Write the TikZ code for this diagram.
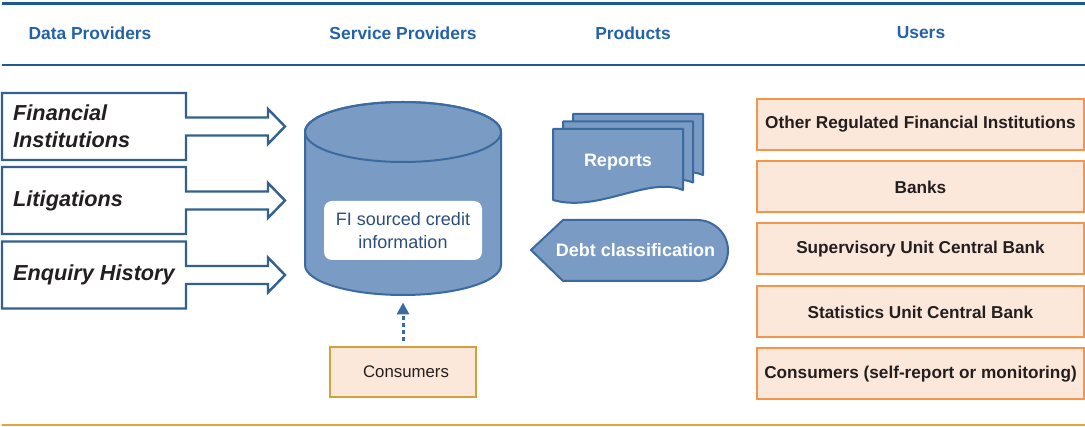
\documentclass[tikz,border=0pt]{standalone}
\usepackage{fontspec}
\setmainfont{Liberation Sans}
\usetikzlibrary{arrows.meta}
\definecolor{hdrblue}{HTML}{2362AA}
\definecolor{rulecol}{HTML}{1C5A96}
\definecolor{dpline}{HTML}{33608F}
\definecolor{cylfill}{HTML}{7A9BC3}
\definecolor{cylline}{HTML}{3A6AA0}
\definecolor{userfill}{HTML}{FCE8DA}
\definecolor{userline}{HTML}{F5954A}
\definecolor{consline}{HTML}{D4A03C}
\definecolor{botline}{HTML}{E3A53A}
\definecolor{txt}{HTML}{231F20}
\definecolor{fitxt}{HTML}{2C4E7E}
\begin{document}
\begin{tikzpicture}[x=1pt,y=-1pt,
  hdr/.style={font=\fontsize{17.4}{20}\selectfont\bfseries, text=hdrblue},
  dpoutline/.style={draw=dpline, line width=2.4, fill=white, line join=miter},
  dptext/.style={font=\fontsize{21.7}{27}\selectfont\bfseries\itshape, text=txt, align=left, anchor=west, inner sep=0},
  prodshape/.style={draw=cylline, line width=2, fill=cylfill, line join=round},
  prodtext/.style={font=\fontsize{18}{21}\selectfont\bfseries, text=white, inner sep=0},
  userbox/.style={draw=userline, line width=2, fill=userfill, minimum width=327, minimum height=51, inner sep=2, font=\fontsize{17.2}{20}\selectfont\bfseries, text=txt},
  consbox/.style={draw=consline, line width=2.2, fill=userfill, minimum width=146, minimum height=50, font=\fontsize{16.8}{20}\selectfont, text=txt},
  rulel/.style={draw=rulecol, line width=2.6}
]
\useasboundingbox (0,0) rectangle (1085,427);

% header rules
\draw[rulel] (2,3.5) -- (1085,3.5);
\draw[rulel] (2,65) -- (1085,65);
\draw[draw=botline, line width=2] (2,425) -- (1085,425);

% headers
\node[hdr] (h1) at (90,33) {Data Providers};
\node[hdr] (h2) at (403,33) {Service Providers};
\node[hdr] (h3) at (633,33) {Products};
\node[hdr] (h4) at (921,33) {Users};

% data providers with block arrows
\foreach \cy in {126.5,200.5,275}{
  \draw[dpoutline] (2,\cy-33.5) -- (186,\cy-33.5) -- (186,\cy-9) -- (268,\cy-9) -- (268,\cy-17.5)
    -- (285,\cy) -- (268,\cy+17.5) -- (268,\cy+9) -- (186,\cy+9) -- (186,\cy+33.5) -- (2,\cy+33.5) -- cycle;
}
\node[dptext] (fi) at (13,126.5) {Financial\\Institutions};
\node[dptext] (lit) at (13,200.5) {Litigations};
\node[dptext] (enq) at (13,275) {Enquiry History};

% cylinder
\draw[prodshape] (305,132) -- (305,265) arc (180:0:98 and 30) -- (501,132) arc (0:-180:98 and 30) -- cycle;
\draw[draw=cylline, line width=2] (403,132) ellipse (98 and 30);
\node[fill=white, rounded corners=8, minimum width=158, minimum height=59, inner sep=0,
      font=\fontsize{18}{23}\selectfont, text=fitxt, align=center] (fisrc) at (403,230.5)
      {FI sourced credit\\information};

% reports (document stack)
\foreach \s in {2,1,0}{
  \begin{scope}[shift={(553+10*\s,129-7.5*\s)}]
    \draw[prodshape] (0,0) -- (130,0) -- (130,61) .. controls (95,47) and (45,84) .. (0,71) -- cycle;
  \end{scope}
}
\node[prodtext] (rep) at (618,162) {Reports};

% debt classification
\draw[prodshape] (531,250) -- (563,220) -- (697,220) arc (-90:90:31 and 30.5) -- (563,281) -- cycle;
\node[prodtext] (debt) at (635.5,250) {Debt classification};

% consumers
\node[consbox] (cons) at (403,372) {\hspace*{6pt}Consumers};
\coordinate (cylin) at (403,302.5);
\draw[draw=cylline, line width=3, dash pattern=on 4pt off 3pt, -{Triangle[length=12pt,width=12pt]}]
  ([yshift=5pt]cons.north) -- (cylin);

% users
\node[userbox] (u1) at (920.5,124.5) {Other Regulated Financial Institutions};
\node[userbox] (u2) at (920.5,187) {Banks};
\node[userbox] (u3) at (920.5,249) {Supervisory Unit Central Bank};
\node[userbox] (u4) at (920.5,312) {Statistics Unit Central Bank};
\node[userbox] (u5) at (920.5,374) {Consumers (self-report or monitoring)};
\end{tikzpicture}
\end{document}
